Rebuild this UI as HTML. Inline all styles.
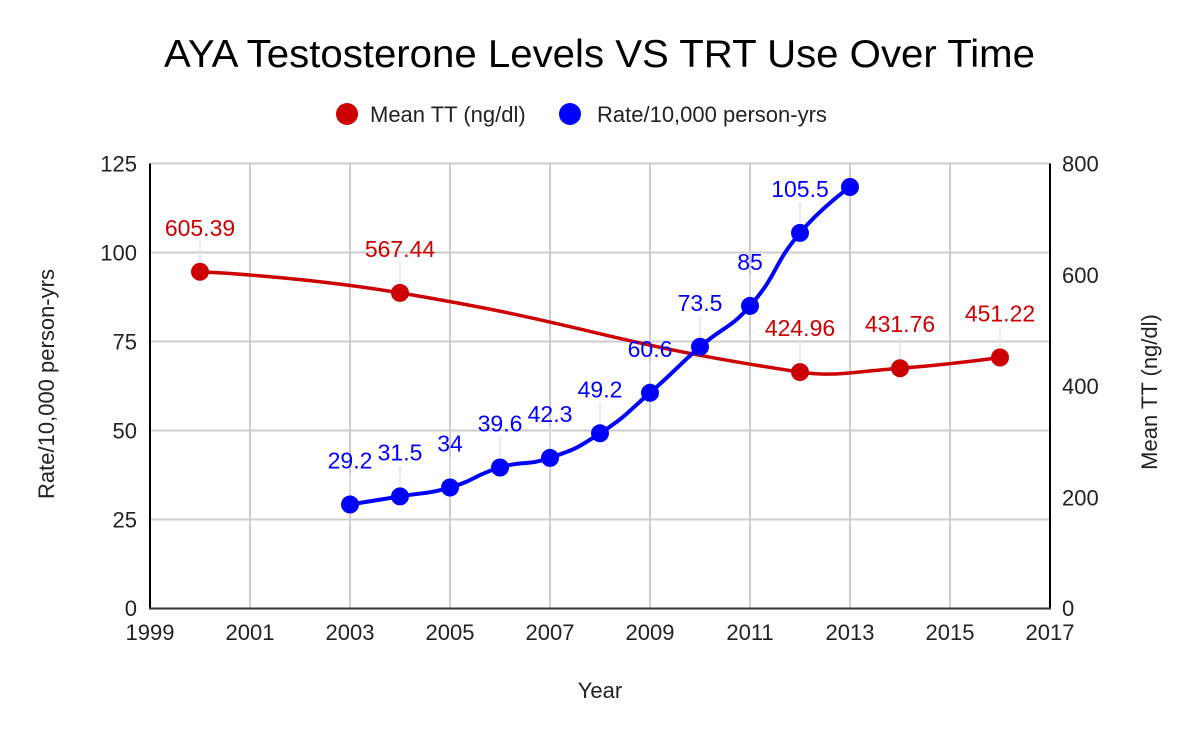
<!DOCTYPE html>
<html>
<head>
<meta charset="utf-8">
<style>
  html, body { margin: 0; padding: 0; background: #ffffff; }
  svg { display: block; }
  text { font-family: "Liberation Sans", Arial, sans-serif; }
</style>
</head>
<body>
<svg width="1200" height="742" viewBox="0 0 1200 742" xmlns="http://www.w3.org/2000/svg">
  <rect x="0" y="0" width="1200" height="742" fill="#ffffff"/>

  <!-- Title -->
  <text x="164" y="67" font-size="39" textLength="871" lengthAdjust="spacingAndGlyphs" fill="#000000">AYA Testosterone Levels VS TRT Use Over Time</text>

  <!-- Legend -->
  <circle cx="347" cy="114" r="11" fill="#cc0000"/>
  <text x="370" y="122" font-size="22" fill="#222222">Mean TT (ng/dl)</text>
  <circle cx="570" cy="114" r="11" fill="#0000ff"/>
  <text x="597" y="122" font-size="22" fill="#222222">Rate/10,000 person-yrs</text>

  <!-- Horizontal gridlines -->
  <g stroke="#cccccc" stroke-width="2">
    <line x1="150" y1="163.5" x2="1050" y2="163.5"/>
    <line x1="150" y1="252.5" x2="1050" y2="252.5"/>
    <line x1="150" y1="341.5" x2="1050" y2="341.5"/>
    <line x1="150" y1="430.5" x2="1050" y2="430.5"/>
    <line x1="150" y1="519.5" x2="1050" y2="519.5"/>
  </g>
  <!-- Vertical gridlines -->
  <g stroke="#cccccc" stroke-width="2">
    <line x1="250" y1="163.5" x2="250" y2="608.5"/>
    <line x1="350" y1="163.5" x2="350" y2="608.5"/>
    <line x1="450" y1="163.5" x2="450" y2="608.5"/>
    <line x1="550" y1="163.5" x2="550" y2="608.5"/>
    <line x1="650" y1="163.5" x2="650" y2="608.5"/>
    <line x1="750" y1="163.5" x2="750" y2="608.5"/>
    <line x1="850" y1="163.5" x2="850" y2="608.5"/>
    <line x1="950" y1="163.5" x2="950" y2="608.5"/>
  </g>

  <!-- Axes -->
  <line x1="150" y1="163.5" x2="150" y2="609.5" stroke="#000000" stroke-width="2"/>
  <line x1="1050" y1="163.5" x2="1050" y2="609.5" stroke="#000000" stroke-width="2"/>
  <line x1="149" y1="608.5" x2="1051" y2="608.5" stroke="#333333" stroke-width="2"/>

  <!-- Left tick labels -->
  <g font-size="22" fill="#222222" text-anchor="end">
    <text x="137" y="171.5">125</text>
    <text x="137" y="260.5">100</text>
    <text x="137" y="349.5">75</text>
    <text x="137" y="438.5">50</text>
    <text x="137" y="527.5">25</text>
    <text x="137" y="616">0</text>
  </g>
  <!-- Right tick labels -->
  <g font-size="22" fill="#222222" text-anchor="start">
    <text x="1062" y="171.5">800</text>
    <text x="1062" y="282.8">600</text>
    <text x="1062" y="394">400</text>
    <text x="1062" y="505.3">200</text>
    <text x="1062" y="616">0</text>
  </g>
  <!-- X tick labels -->
  <g font-size="22" fill="#222222" text-anchor="middle">
    <text x="150" y="640">1999</text>
    <text x="250" y="640">2001</text>
    <text x="350" y="640">2003</text>
    <text x="450" y="640">2005</text>
    <text x="550" y="640">2007</text>
    <text x="650" y="640">2009</text>
    <text x="750" y="640">2011</text>
    <text x="850" y="640">2013</text>
    <text x="950" y="640">2015</text>
    <text x="1050" y="640">2017</text>
  </g>

  <!-- Axis titles -->
  <text x="600" y="698" font-size="22" fill="#222222" text-anchor="middle">Year</text>
  <text transform="translate(54,384) rotate(-90)" font-size="22" fill="#222222" text-anchor="middle">Rate/10,000 person-yrs</text>
  <text transform="translate(1157,392) rotate(-90)" font-size="22" fill="#222222" text-anchor="middle">Mean TT (ng/dl)</text>

  <!-- Leader lines -->
  <g stroke="#e2e2e2" stroke-width="1.5">
    <line x1="200" y1="262" x2="200" y2="241"/>
    <line x1="400" y1="283" x2="400" y2="262"/>
    <line x1="800" y1="362" x2="800" y2="341"/>
    <line x1="900" y1="358" x2="900" y2="337"/>
    <line x1="1000" y1="348" x2="1000" y2="327"/>

    <line x1="350" y1="495" x2="350" y2="474"/>
    <line x1="400" y1="487" x2="400" y2="466"/>
    <line x1="450" y1="478" x2="450" y2="457"/>
    <line x1="500" y1="458" x2="500" y2="437"/>
    <line x1="550" y1="448" x2="550" y2="427"/>
    <line x1="600" y1="424" x2="600" y2="403"/>
    <line x1="650" y1="383" x2="650" y2="362"/>
    <line x1="700" y1="337" x2="700" y2="316"/>
    <line x1="750" y1="296" x2="750" y2="275"/>
    <line x1="800" y1="223" x2="800" y2="202"/>
  </g>

  <!-- Red series: Mean TT -->
  <path d="M200,271.8 C200,271.8 300.9,276.3 400,292.9 C600.9,326.5 599.3,341.8 800,372.1 C835,377 850.1,371.9 900,368.3 C950.1,364.6 1000,357.5 1000,357.5"
        fill="none" stroke="#cc0000" stroke-width="3.5" stroke-linecap="round" stroke-linejoin="round"/>
  <g fill="#cc0000">
    <circle cx="200" cy="271.8" r="9"/>
    <circle cx="400" cy="292.9" r="9"/>
    <circle cx="800" cy="372.1" r="9"/>
    <circle cx="900" cy="368.3" r="9"/>
    <circle cx="1000" cy="357.5" r="9"/>
  </g>

  <!-- Blue series: Rate -->
  <path d="M350,504.5 C350,504.5 375,500.6 400,496.4 C425,492.1 425.7,494.5 450,487.5 C475.7,480.1 474.3,475.1 500,467.5 C524.3,460.3 526.1,466.1 550,457.9 C576.1,449 576.8,448.4 600,433.3 C626.8,415.9 625.7,413.8 650,392.8 C675.7,370.6 674.4,369.1 700,346.8 C724.4,325.6 728.9,329.9 750,305.9 C778.9,273 771.7,266.6 800,232.9 C821.7,207.1 850,187 850,187"
        fill="none" stroke="#0000ff" stroke-width="4" stroke-linecap="round" stroke-linejoin="round"/>
  <g fill="#0000ff">
    <circle cx="350" cy="504.5" r="9"/>
    <circle cx="400" cy="496.4" r="9"/>
    <circle cx="450" cy="487.5" r="9"/>
    <circle cx="500" cy="467.5" r="9"/>
    <circle cx="550" cy="457.9" r="9"/>
    <circle cx="600" cy="433.3" r="9"/>
    <circle cx="650" cy="392.8" r="9"/>
    <circle cx="700" cy="346.8" r="9"/>
    <circle cx="750" cy="305.9" r="9"/>
    <circle cx="800" cy="232.9" r="9"/>
    <circle cx="850" cy="187" r="9"/>
  </g>

  <!-- Red data labels -->
  <g font-size="23" fill="#cc0000" text-anchor="middle">
    <text x="200" y="236">605.39</text>
    <text x="400" y="257">567.44</text>
    <text x="800" y="336">424.96</text>
    <text x="900" y="332">431.76</text>
    <text x="1000" y="321.5">451.22</text>
  </g>

  <!-- Blue data labels -->
  <g font-size="23" fill="#0000ff" text-anchor="middle">
    <text x="350" y="468.5">29.2</text>
    <text x="400" y="460.4">31.5</text>
    <text x="450" y="451.5">34</text>
    <text x="500" y="431.5">39.6</text>
    <text x="550" y="421.9">42.3</text>
    <text x="600" y="397.3">49.2</text>
    <text x="650" y="356.8">60.6</text>
    <text x="700" y="310.8">73.5</text>
    <text x="750" y="269.9">85</text>
    <text x="800" y="196.9">105.5</text>
  </g>
</svg>
</body>
</html>
